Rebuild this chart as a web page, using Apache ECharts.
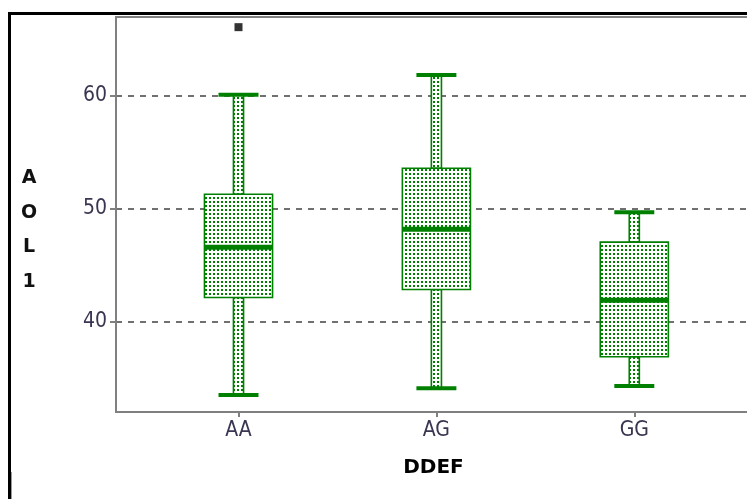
<!DOCTYPE html>
<html>
<head>
<meta charset="utf-8">
<script src="https://cdn.jsdelivr.net/npm/echarts@6/dist/echarts.min.js"></script>
<style>
    html, body { margin: 0; padding: 0; background: #fff; }
    #chart { width: 747px; height: 499px; }
</style>
</head>
<body>
<div id="chart"></div>
<script>
var categories = ['AA', 'AG', 'GG'];
// [low whisker, Q1, median, Q3, high whisker]
var boxValues = [
    [33.5, 42.15, 46.6, 51.3, 60.1],
    [34.1, 42.85, 48.2, 53.6, 61.85],
    [34.3, 36.9, 41.9, 47.05, 49.7]
];
var outliers = [[0, 66.1]];   // [category index, value]
var yTicks = [40, 50, 60];

var green = '#008000';
var frameGray = '#808080';

// dotted fill like the original
var dotCanvas = document.createElement('canvas');
dotCanvas.width = 4;
dotCanvas.height = 4;
var dctx = dotCanvas.getContext('2d');
dctx.fillStyle = '#ffffff';
dctx.fillRect(0, 0, 4, 4);
dctx.fillStyle = green;
dctx.fillRect(1, 1, 2, 2);
var dotPattern = { image: dotCanvas, repeat: 'repeat' };

var boxData = boxValues.map(function (b, i) {
    return [i + 1].concat(b);
});
var outlierData = outliers.map(function (o) {
    return [o[0] + 1, o[1]];
});

function renderBox(params, api) {
    var x = api.value(0);
    var lo = api.coord([x, api.value(1)]);
    var q1 = api.coord([x, api.value(2)]);
    var md = api.coord([x, api.value(3)]);
    var q3 = api.coord([x, api.value(4)]);
    var hi = api.coord([x, api.value(5)]);
    var band = api.size([1, 0])[0];
    var cx = hi[0];
    var bw = band * 0.344, cw = band * 0.202, ww = band * 0.051;
    var boxStyle = { fill: dotPattern, stroke: green, lineWidth: 1.6 };
    return {
        type: 'group',
        children: [
            { type: 'rect', shape: { x: cx - ww / 2, y: hi[1], width: ww, height: q3[1] - hi[1] }, style: boxStyle },
            { type: 'rect', shape: { x: cx - ww / 2, y: q1[1], width: ww, height: lo[1] - q1[1] }, style: boxStyle },
            { type: 'rect', shape: { x: cx - bw / 2, y: q3[1], width: bw, height: q1[1] - q3[1] }, style: boxStyle },
            { type: 'line', shape: { x1: cx - bw / 2, y1: md[1], x2: cx + bw / 2, y2: md[1] }, style: { stroke: green, lineWidth: 5 } },
            { type: 'line', shape: { x1: cx - cw / 2, y1: hi[1], x2: cx + cw / 2, y2: hi[1] }, style: { stroke: green, lineWidth: 4 } },
            { type: 'line', shape: { x1: cx - cw / 2, y1: lo[1], x2: cx + cw / 2, y2: lo[1] }, style: { stroke: green, lineWidth: 4 } }
        ]
    };
}

var tickFont = "'Liberation Sans Narrow', 'DejaVu Sans Condensed', sans-serif";

var option = {
    animation: false,
    backgroundColor: '#ffffff',
    grid: {
        left: 116,
        top: 17,
        width: 641,
        bottom: 87,
        outerBoundsMode: 'none',
        containLabel: false,
        show: true,
        borderColor: frameGray,
        borderWidth: 2
    },
    xAxis: {
        type: 'value',
        min: 0.381,
        max: 3.62,
        name: 'DDEF',
        nameLocation: 'middle',
        nameGap: 46,
        nameTextStyle: {
            fontFamily: 'DejaVu Sans',
            fontWeight: 'bold',
            fontSize: 20,
            color: '#000',
            padding: [0, 6, 0, 0]
        },
        axisLine: { lineStyle: { color: frameGray, width: 2 } },
        axisTick: { customValues: [1, 2, 3], length: 5, lineStyle: { color: frameGray, width: 2 } },
        axisLabel: {
            customValues: [1, 2, 3],
            formatter: function (v) { return categories[Math.round(v) - 1] || ''; },
            margin: 8,
            fontFamily: tickFont,
            fontSize: 21,
            color: '#3a3550'
        },
        splitLine: { show: false }
    },
    yAxis: {
        type: 'value',
        min: 32,
        max: 67,
        axisLine: { show: true, lineStyle: { color: frameGray, width: 2 } },
        axisTick: { show: true, customValues: yTicks, length: 6, lineStyle: { color: frameGray, width: 2 } },
        axisLabel: {
            customValues: yTicks,
            margin: 9,
            fontFamily: tickFont,
            fontSize: 21,
            color: '#3a3550'
        },
        splitLine: {
            show: true,
            lineStyle: { color: '#707070', width: 2, type: [6, 6] }
        }
    },
    graphic: [
        {
            type: 'polyline',
            shape: { points: [[9.5, 499], [9.5, 13.5], [747, 13.5]] },
            style: { stroke: '#000', lineWidth: 3, fill: null },
            z: 100
        },
        {
            type: 'line',
            shape: { x1: 11.5, y1: 472, x2: 11.5, y2: 499 },
            style: { stroke: '#9a9a9a', lineWidth: 1 }
        },
        {
            type: 'text',
            x: 29,
            y: 161,
            style: {
                text: 'A\nO\nL\n1',
                font: "bold 19px 'DejaVu Sans', sans-serif",
                lineHeight: 34.5,
                fill: '#111',
                align: 'center',
                verticalAlign: 'top'
            }
        }
    ],
    series: [
        {
            type: 'custom',
            renderItem: renderBox,
            encode: { x: 0, y: [1, 2, 3, 4, 5] },
            data: boxData,
            z: 3
        },
        {
            type: 'scatter',
            symbol: 'rect',
            symbolSize: 8,
            itemStyle: { color: '#000' },
            data: outlierData,
            z: 4
        }
    ]
};

var chart = echarts.init(document.getElementById('chart'));
chart.setOption(option);
</script>
</body>
</html>
